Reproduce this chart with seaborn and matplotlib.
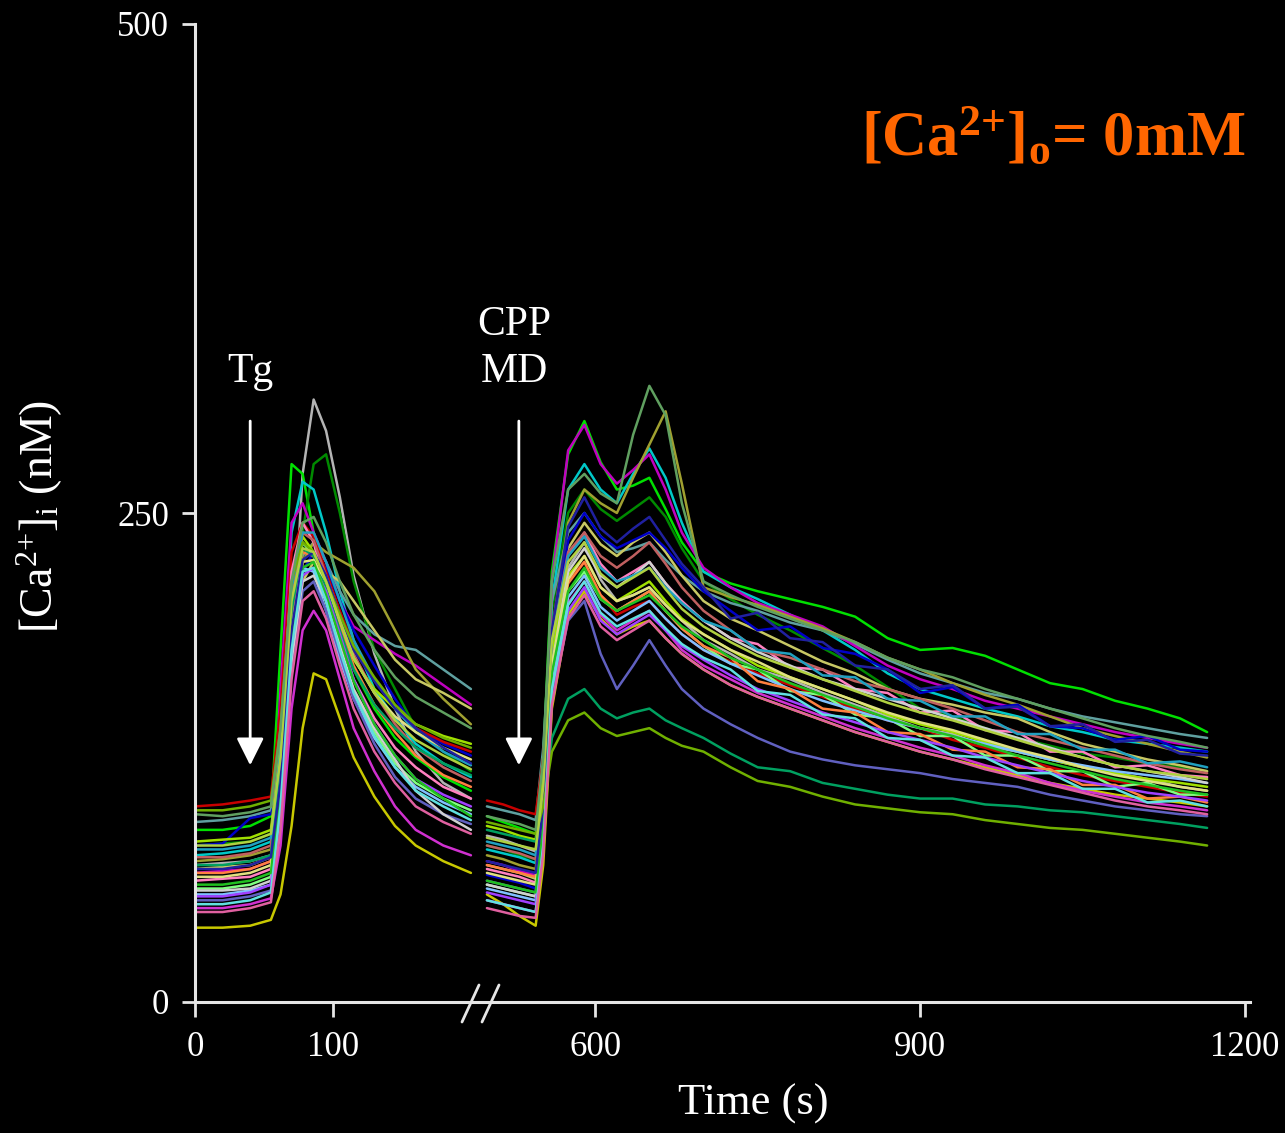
import numpy as np
import pandas as pd
import matplotlib
matplotlib.use("Agg")
import matplotlib.pyplot as plt
import seaborn as sns

# time grids (s) for the two recorded segments
t1 = [0, 20, 40, 55, 62, 70, 78, 86, 95, 105, 115, 130, 145, 160, 180, 200]
t2 = [500, 515, 530, 545, 552, 560, 575, 590, 605, 620, 635, 650, 665, 680, 700,
      725, 750, 780, 810, 840, 870, 900, 930, 960, 990, 1020, 1050, 1080, 1110, 1140, 1165]

colors = ['#b4b4b4', '#00e000', '#008a00', '#00c8c8', '#5fa0a0', '#c000c0', '#a0a030',
          '#c8c864', '#0000c8', '#c80000', '#c8c800', '#d030d0', '#ff80c0', '#80ff80',
          '#a0e000', '#80c0ff', '#6060c0', '#ff8040', '#c06060', '#d0d0d0', '#00a060',
          '#20a0c0', '#e0e080', '#a040ff', '#20c020', '#2020a0', '#70b000', '#60e0e0',
          '#e060a0', '#b0d040', '#60a060']

# [Ca2+]i (nM) after Tg
seg1 = [
    [70, 71, 72, 75, 92, 170, 270, 308, 292, 258, 218, 178, 150, 128, 112, 104],
    [88, 88, 90, 95, 180, 275, 270, 240, 215, 190, 170, 150, 135, 125, 115, 108],
    [80, 81, 82, 86, 110, 180, 240, 275, 280, 250, 215, 180, 160, 140, 128, 118],
    [75, 76, 78, 82, 140, 240, 266, 262, 240, 210, 185, 160, 145, 132, 122, 115],
    [92, 93, 95, 98, 130, 200, 228, 235, 225, 210, 198, 188, 182, 180, 170, 160],
    [66, 67, 68, 72, 160, 245, 255, 240, 225, 205, 192, 185, 178, 172, 162, 152],
    [72, 73, 75, 78, 110, 180, 225, 235, 230, 226, 222, 210, 190, 170, 155, 142],
    [68, 69, 70, 74, 100, 170, 215, 225, 220, 215, 205, 190, 175, 165, 158, 150],
    [80, 81, 94, 96, 110, 180, 220, 230, 222, 205, 190, 172, 155, 140, 132, 126],
    [100, 101, 103, 105, 150, 230, 245, 238, 220, 200, 182, 165, 150, 140, 133, 128],
    [38, 38, 39, 42, 55, 90, 140, 168, 165, 145, 125, 105, 90, 80, 72, 66],
    [48, 48, 50, 53, 80, 150, 190, 200, 190, 165, 140, 118, 100, 88, 80, 75],
    [62, 63, 64, 68, 130, 220, 245, 235, 210, 185, 165, 145, 130, 120, 110, 104],
    [58, 58, 60, 64, 120, 200, 235, 228, 205, 180, 158, 138, 122, 112, 104, 98],
    [82, 83, 84, 88, 130, 210, 238, 230, 210, 190, 175, 160, 150, 142, 136, 132],
    [55, 55, 57, 60, 110, 190, 222, 220, 200, 175, 155, 135, 120, 110, 102, 96],
    [52, 52, 54, 57, 95, 170, 210, 215, 200, 178, 155, 132, 115, 104, 96, 91],
    [66, 66, 68, 72, 115, 195, 230, 228, 212, 192, 172, 152, 138, 126, 116, 110],
    [74, 74, 76, 80, 125, 205, 240, 236, 218, 198, 178, 158, 142, 130, 120, 113],
    [57, 57, 58, 62, 100, 175, 215, 218, 205, 182, 160, 140, 124, 108, 96, 88],
    [70, 70, 72, 75, 118, 200, 232, 228, 212, 190, 170, 152, 140, 130, 122, 116],
    [78, 78, 80, 84, 128, 212, 240, 240, 225, 205, 185, 165, 150, 138, 128, 121],
    [64, 64, 66, 70, 110, 190, 225, 226, 215, 195, 176, 158, 146, 138, 130, 124],
    [54, 54, 56, 60, 105, 182, 218, 222, 210, 188, 165, 142, 126, 114, 106, 100],
    [60, 60, 62, 66, 108, 186, 222, 225, 208, 186, 164, 142, 126, 114, 104, 95],
    [68, 68, 70, 74, 112, 190, 226, 230, 218, 198, 180, 164, 150, 140, 130, 122],
    [98, 98, 100, 103, 140, 215, 235, 230, 215, 198, 182, 166, 152, 142, 135, 130],
    [50, 50, 52, 56, 100, 180, 220, 222, 205, 180, 158, 136, 120, 108, 100, 93],
    [46, 46, 48, 51, 88, 165, 205, 210, 196, 172, 150, 128, 112, 100, 92, 86],
    [80, 80, 82, 86, 125, 205, 232, 230, 215, 195, 176, 158, 144, 134, 126, 119],
    [96, 95, 97, 100, 140, 215, 245, 248, 235, 215, 198, 180, 166, 156, 148, 140],
]

# [Ca2+]i (nM) after CPP + MD
seg2 = [
    [85, 83, 80, 77, 110, 185, 222, 235, 216, 205, 208, 212, 203, 195, 185, 178, 170, 165, 158, 152, 146, 140, 137, 131, 128, 124, 120, 117, 114, 110, 108],
    [95, 92, 89, 86, 125, 220, 280, 297, 276, 262, 264, 268, 252, 235, 220, 214, 210, 206, 202, 197, 186, 180, 181, 177, 170, 163, 160, 154, 150, 145, 138],
    [80, 78, 75, 73, 108, 200, 250, 262, 252, 246, 252, 258, 248, 232, 215, 206, 198, 190, 181, 172, 161, 150, 146, 140, 135, 131, 127, 125, 122, 120, 118],
    [78, 76, 74, 71, 110, 205, 262, 275, 262, 255, 270, 283, 268, 245, 220, 212, 206, 198, 190, 180, 168, 160, 155, 150, 146, 141, 138, 134, 132, 130, 128],
    [100, 98, 96, 93, 130, 205, 240, 250, 238, 230, 232, 235, 226, 218, 210, 204, 200, 194, 190, 183, 175, 168, 163, 158, 155, 150, 146, 143, 140, 137, 135],
    [72, 70, 67, 65, 105, 215, 282, 295, 275, 265, 272, 280, 262, 240, 222, 212, 204, 198, 192, 182, 172, 165, 160, 154, 150, 146, 142, 138, 135, 132, 130],
    [75, 73, 70, 68, 100, 190, 245, 262, 255, 250, 268, 285, 302, 265, 212, 207, 203, 197, 191, 184, 176, 170, 163, 157, 152, 146, 140, 136, 132, 128, 125],
    [70, 68, 66, 63, 98, 180, 232, 245, 234, 228, 235, 240, 230, 218, 205, 196, 190, 182, 174, 168, 160, 155, 152, 148, 145, 138, 132, 128, 124, 121, 118],
    [65, 63, 61, 58, 92, 182, 236, 250, 238, 232, 236, 240, 232, 222, 210, 200, 190, 192, 181, 178, 170, 158, 161, 150, 152, 141, 140, 134, 136, 129, 128],
    [103, 101, 98, 96, 125, 185, 215, 225, 208, 198, 202, 205, 196, 188, 180, 174, 168, 162, 156, 150, 144, 140, 134, 130, 125, 120, 116, 113, 110, 107, 105],
    [55, 50, 44, 39, 70, 150, 198, 210, 196, 188, 192, 195, 186, 178, 170, 162, 156, 150, 144, 138, 133, 128, 124, 120, 116, 112, 109, 106, 104, 102, 100],
    [52, 50, 48, 46, 80, 160, 204, 215, 198, 190, 195, 200, 190, 180, 172, 165, 158, 152, 146, 140, 135, 130, 126, 121, 117, 112, 108, 105, 102, 100, 98],
    [68, 66, 64, 61, 96, 180, 228, 240, 224, 215, 220, 225, 214, 205, 195, 186, 183, 171, 170, 160, 158, 148, 149, 139, 138, 128, 128, 120, 121, 116, 115],
    [60, 58, 56, 54, 88, 168, 210, 220, 206, 200, 205, 210, 200, 191, 182, 173, 170, 159, 157, 147, 145, 136, 136, 126, 126, 118, 118, 110, 112, 106, 106],
    [90, 88, 85, 83, 115, 180, 218, 228, 212, 205, 210, 215, 205, 196, 188, 180, 172, 166, 160, 154, 147, 142, 138, 133, 128, 124, 120, 117, 114, 112, 110],
    [58, 56, 54, 52, 86, 165, 207, 218, 202, 195, 200, 205, 196, 188, 180, 173, 167, 160, 154, 149, 144, 140, 136, 132, 128, 124, 121, 118, 116, 114, 112],
    [62, 60, 58, 56, 85, 155, 195, 205, 178, 160, 172, 185, 172, 160, 150, 142, 135, 128, 124, 121, 119, 117, 114, 112, 110, 106, 103, 100, 98, 96, 95],
    [70, 68, 66, 64, 96, 172, 214, 225, 208, 200, 205, 210, 200, 191, 182, 176, 164, 160, 150, 148, 138, 137, 129, 128, 120, 119, 111, 111, 104, 105, 102],
    [80, 78, 76, 73, 105, 185, 230, 240, 228, 222, 228, 235, 224, 212, 200, 190, 180, 176, 170, 164, 160, 155, 150, 144, 138, 134, 130, 126, 122, 119, 117],
    [60, 58, 56, 54, 90, 172, 220, 232, 218, 212, 218, 225, 214, 204, 195, 186, 179, 172, 165, 160, 155, 150, 145, 140, 135, 130, 125, 121, 118, 115, 112],
    [88, 86, 84, 82, 100, 135, 155, 160, 150, 145, 148, 150, 144, 140, 135, 127, 120, 118, 112, 109, 106, 104, 104, 101, 100, 98, 97, 95, 93, 91, 89],
    [82, 80, 78, 75, 108, 185, 228, 238, 222, 215, 218, 222, 212, 204, 195, 190, 180, 178, 167, 166, 155, 154, 146, 146, 137, 137, 129, 129, 122, 123, 120],
    [66, 64, 62, 60, 94, 172, 216, 228, 212, 205, 208, 212, 203, 195, 188, 180, 174, 166, 160, 154, 148, 143, 139, 134, 129, 125, 120, 116, 113, 110, 108],
    [56, 54, 52, 50, 84, 160, 200, 212, 195, 188, 193, 198, 190, 182, 175, 167, 160, 154, 148, 143, 138, 134, 130, 125, 121, 117, 113, 110, 107, 105, 103],
    [62, 60, 58, 56, 90, 168, 210, 222, 206, 200, 204, 208, 200, 192, 185, 176, 170, 163, 157, 151, 145, 140, 136, 131, 126, 122, 118, 114, 111, 108, 106],
    [72, 70, 68, 66, 100, 190, 243, 258, 242, 235, 242, 248, 236, 224, 212, 196, 199, 186, 184, 172, 170, 160, 162, 150, 151, 141, 142, 133, 134, 127, 126],
    [92, 90, 88, 86, 100, 128, 144, 148, 140, 136, 138, 140, 135, 131, 128, 120, 113, 110, 105, 101, 99, 97, 96, 93, 91, 89, 88, 86, 84, 82, 80],
    [52, 50, 48, 46, 80, 160, 203, 215, 199, 192, 196, 200, 191, 183, 176, 170, 159, 157, 147, 145, 135, 134, 126, 125, 117, 117, 109, 109, 102, 103, 100],
    [48, 46, 44, 43, 76, 152, 196, 208, 192, 185, 190, 195, 186, 178, 170, 162, 156, 150, 144, 138, 133, 128, 124, 119, 115, 111, 107, 103, 100, 98, 96],
    [84, 82, 80, 78, 110, 185, 225, 235, 219, 212, 217, 222, 211, 201, 192, 184, 177, 171, 165, 159, 153, 148, 144, 139, 134, 129, 125, 121, 118, 116, 114],
    [95, 93, 91, 88, 125, 215, 262, 270, 260, 255, 290, 315, 300, 255, 215, 208, 202, 196, 190, 184, 176, 170, 166, 160, 155, 150, 145, 140, 136, 133, 130],
]

rows = []
for i, (a, b) in enumerate(zip(seg1, seg2)):
    assert len(a) == len(t1) and len(b) == len(t2)
    for t, v in zip(t1, a):
        rows.append((f"cell{i}", 1, t, v))
    for t, v in zip(t2, b):
        rows.append((f"cell{i}", 2, t, v))
df = pd.DataFrame(rows, columns=["cell", "seg", "time", "ca"])
palette = {f"cell{i}": c for i, c in enumerate(colors)}

sns.set_style("dark")
plt.rcParams["font.family"] = ["Liberation Serif", "DejaVu Serif"]
plt.rcParams["mathtext.fontset"] = "custom"
plt.rcParams["mathtext.rm"] = "Liberation Serif"
plt.rcParams["mathtext.it"] = "Liberation Serif:italic"
plt.rcParams["mathtext.bf"] = "Liberation Serif:bold"

fig = plt.figure(figsize=(12.85, 11.33), dpi=100, facecolor="black")
ax = fig.add_axes([195 / 1285, 131 / 1133, 1055 / 1285, 978 / 1133])
ax.set_facecolor("black")

for s in (1, 2):
    sns.lineplot(data=df[df.seg == s], x="time", y="ca", hue="cell", palette=palette,
                 estimator=None, legend=False, linewidth=1.8, ax=ax)

# broken time axis: two linear pieces squeezed around the gap
knots_t = [0, 200, 500, 1300]
knots_u = [0, 276, 292, 292 + 800 * 325 / 300]
fwd = lambda x: np.interp(x, knots_t, knots_u)
inv = lambda u: np.interp(u, knots_u, knots_t)
ax.set_xscale("function", functions=(fwd, inv))
ax.set_xlim(0, 1204.6)
ax.set_ylim(0, 500)
ax.set_xticks([0, 100, 600, 900, 1200])
ax.set_yticks([0, 250, 500])
ax.set_xlabel("")
ax.set_ylabel("")
ax.grid(False)

for side in ("top", "right"):
    ax.spines[side].set_visible(False)
for side in ("left", "bottom"):
    ax.spines[side].set_color("#e6e6e6")
    ax.spines[side].set_linewidth(2.2)
ax.tick_params(axis="both", colors="#e6e6e6", direction="out", width=2, labelsize=25,
               labelcolor="white", left=True, bottom=True)
ax.tick_params(axis="y", length=9.5, pad=9)
ax.tick_params(axis="x", length=11, pad=10)

# break marks
for x0 in (462, 482):
    ax.plot([(x0 - 195) / 1055, (x0 + 17 - 195) / 1055], [-20 / 978, 17 / 978],
            transform=ax.transAxes, color="#e6e6e6", lw=2, clip_on=False)

fig.text(753 / 1285, 1 - 1104 / 1133, "Time (s)", color="white", fontsize=32,
         ha="center", va="center")
fig.text(40 / 1285, 1 - 516 / 1133, r"[Ca$^{2{+}}$]$_{\mathrm{i}}$ (nM)", color="white",
         fontsize=33, rotation=90, ha="center", va="center")
fig.text(1245 / 1285, 1 - 155 / 1133, r"[Ca$^{\mathbf{2{+}}}$]$_{\mathbf{o}}$= 0mM",
         color="#ff6600", fontsize=45, fontweight="bold", ha="right", va="baseline")

arrow = dict(arrowstyle="-|>", color="white", lw=2, mutation_scale=42, shrinkA=0, shrinkB=0)
ax.annotate("", xy=(40, 121), xytext=(40, 297), arrowprops=arrow)
ax.annotate("", xy=(529.5, 121), xytext=(529.5, 297), arrowprops=arrow)
ax.text(40, 317, "Tg", color="white", fontsize=30, ha="center", va="baseline")
ax.text(525, 341, "CPP", color="white", fontsize=30, ha="center", va="baseline")
ax.text(525, 317, "MD", color="white", fontsize=30, ha="center", va="baseline")

fig.savefig("out.png", dpi=100, facecolor="black")
